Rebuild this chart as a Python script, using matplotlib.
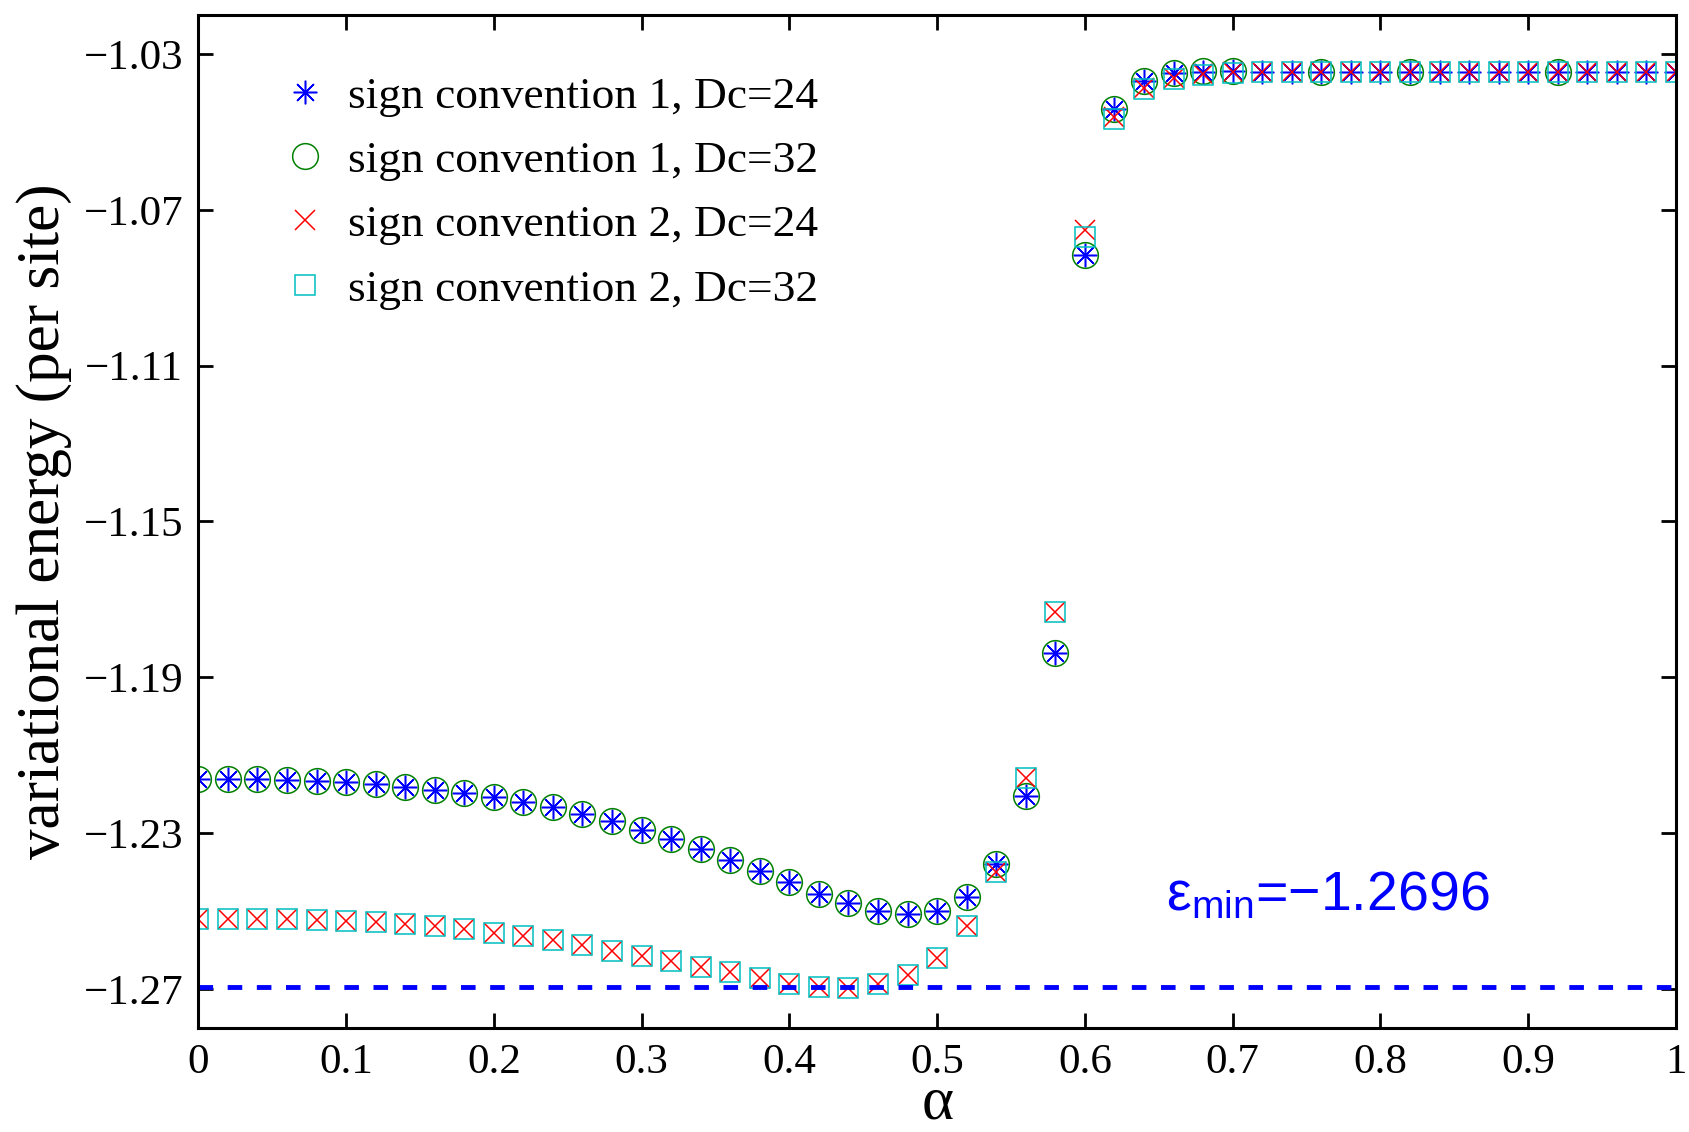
"""Variational energy per site vs alpha for two sign conventions."""

import matplotlib
matplotlib.use("Agg")
import matplotlib.pyplot as plt

# alpha grid (all series except conv-1 Dc=32 at large alpha)
alpha = [0.00, 0.02, 0.04, 0.06, 0.08, 0.10, 0.12, 0.14, 0.16, 0.18,
         0.20, 0.22, 0.24, 0.26, 0.28, 0.30, 0.32, 0.34, 0.36, 0.38,
         0.40, 0.42, 0.44, 0.46, 0.48, 0.50, 0.52, 0.54, 0.56, 0.58,
         0.60, 0.62, 0.64, 0.66, 0.68, 0.70, 0.72, 0.74, 0.76, 0.78,
         0.80, 0.82, 0.84, 0.86, 0.88, 0.90, 0.92, 0.94, 0.96, 0.98, 1.00]

conv1_dc24 = [-1.2161, -1.2161, -1.2162, -1.2163, -1.2166, -1.2168, -1.2174,
              -1.2181, -1.2188, -1.2196, -1.2207, -1.2219, -1.2234, -1.2250,
              -1.2270, -1.2291, -1.2315, -1.2341, -1.2369, -1.2397, -1.2426,
              -1.2455, -1.2480, -1.2500, -1.2508, -1.2499, -1.2463, -1.2380,
              -1.2204, -1.1837, -1.0817, -1.0442, -1.0370, -1.0348, -1.0346,
              -1.0345, -1.0347, -1.0347, -1.0347, -1.0347, -1.0347, -1.0347,
              -1.0347, -1.0347, -1.0347, -1.0347, -1.0347, -1.0347, -1.0347,
              -1.0347, -1.0347]

alpha_c1_dc32 = alpha[:36] + [0.76, 0.82, 0.92]
conv1_dc32 = [-1.2161, -1.2161, -1.2162, -1.2163, -1.2166, -1.2168, -1.2174,
              -1.2181, -1.2188, -1.2196, -1.2207, -1.2219, -1.2234, -1.2250,
              -1.2270, -1.2291, -1.2315, -1.2341, -1.2369, -1.2397, -1.2426,
              -1.2455, -1.2480, -1.2500, -1.2508, -1.2499, -1.2463, -1.2380,
              -1.2204, -1.1837, -1.0817, -1.0442, -1.0370, -1.0348, -1.0345,
              -1.0345, -1.0347, -1.0347, -1.0347]

conv2_dc24 = [-1.2520, -1.2520, -1.2521, -1.2521, -1.2523, -1.2525, -1.2529,
              -1.2534, -1.2539, -1.2545, -1.2555, -1.2563, -1.2575, -1.2588,
              -1.2603, -1.2616, -1.2628, -1.2643, -1.2657, -1.2671, -1.2687,
              -1.2694, -1.2697, -1.2688, -1.2664, -1.2621, -1.2539, -1.2399,
              -1.2159, -1.1733, -1.0753, -1.0463, -1.0388, -1.0363, -1.0352,
              -1.0347, -1.0347, -1.0347, -1.0347, -1.0347, -1.0347, -1.0347,
              -1.0347, -1.0347, -1.0347, -1.0347, -1.0347, -1.0347, -1.0347,
              -1.0347, -1.0347]

conv2_dc32 = [-1.2520, -1.2520, -1.2521, -1.2521, -1.2523, -1.2525, -1.2529,
              -1.2534, -1.2539, -1.2545, -1.2555, -1.2563, -1.2575, -1.2588,
              -1.2603, -1.2616, -1.2628, -1.2643, -1.2657, -1.2671, -1.2687,
              -1.2694, -1.2697, -1.2688, -1.2664, -1.2621, -1.2539, -1.2399,
              -1.2159, -1.1733, -1.0770, -1.0466, -1.0391, -1.0364, -1.0355,
              -1.0348, -1.0347, -1.0347, -1.0347, -1.0347, -1.0347, -1.0347,
              -1.0347, -1.0347, -1.0347, -1.0347, -1.0347, -1.0347, -1.0347,
              -1.0347, -1.0347]

E_MIN = -1.2696
yticks = [-1.27, -1.23, -1.19, -1.15, -1.11, -1.07, -1.03]
xticks = [0, 0.1, 0.2, 0.3, 0.4, 0.5, 0.6, 0.7, 0.8, 0.9, 1]
xticklabels = ["0", "0.1", "0.2", "0.3", "0.4", "0.5", "0.6", "0.7", "0.8", "0.9", "1"]
labels = ["sign convention 1, Dc=24", "sign convention 1, Dc=32",
          "sign convention 2, Dc=24", "sign convention 2, Dc=32"]

plt.rcParams["font.family"] = ["Liberation Serif", "DejaVu Serif"]
plt.rcParams["mathtext.fontset"] = "custom"
plt.rcParams["mathtext.rm"] = "Liberation Sans"
plt.rcParams["mathtext.it"] = "Liberation Sans"

fig = plt.figure(figsize=(16.89, 11.32), dpi=100)
ax = fig.add_axes([0.1174, 0.0919, 0.8749, 0.8949])

ax.plot(alpha, conv1_dc24, ls="none", marker=(8, 2, 0), ms=17, mew=1.1,
        color="b", label=labels[0])
ax.plot(alpha_c1_dc32, conv1_dc32, ls="none", marker="o", ms=18.5, mew=1.1,
        mfc="none", color=(0, 0.5, 0), label=labels[1])
ax.plot(alpha, conv2_dc24, ls="none", marker="x", ms=14, mew=1.1,
        color="r", label=labels[2])
ax.plot(alpha, conv2_dc32, ls="none", marker="s", ms=15, mew=1.1,
        mfc="none", color="c", label=labels[3])

ax.axhline(E_MIN, color="b", lw=3.5, dashes=(3, 3))
ax.text(0.655, -1.2497, r"$\mathrm{ε}_{\mathrm{min}}$=−1.2696", color="b",
        fontsize=40, family="Liberation Sans")

ax.set_xlim(0, 1)
ax.set_ylim(-1.28, -1.02)
ax.set_xticks(xticks)
ax.set_xticklabels(xticklabels)
ax.set_yticks(yticks)
ax.set_yticklabels([f"{t:.2f}".replace("-", "−") for t in yticks])
ax.tick_params(direction="in", length=11, width=2, labelsize=31,
               top=True, right=True, pad=11)
for sp in ax.spines.values():
    sp.set_linewidth(2.2)

ax.set_xlabel("α", fontsize=44, labelpad=-4)
ax.set_ylabel("variational energy (per site)", fontsize=44, labelpad=8)

ax.legend(loc="upper left", bbox_to_anchor=(0.057, 0.94), frameon=False,
          fontsize=32.7, numpoints=1, handlelength=1.0, handletextpad=0.45,
          labelspacing=0.52, borderpad=0, borderaxespad=0)

fig.savefig("out.png", dpi=100)
